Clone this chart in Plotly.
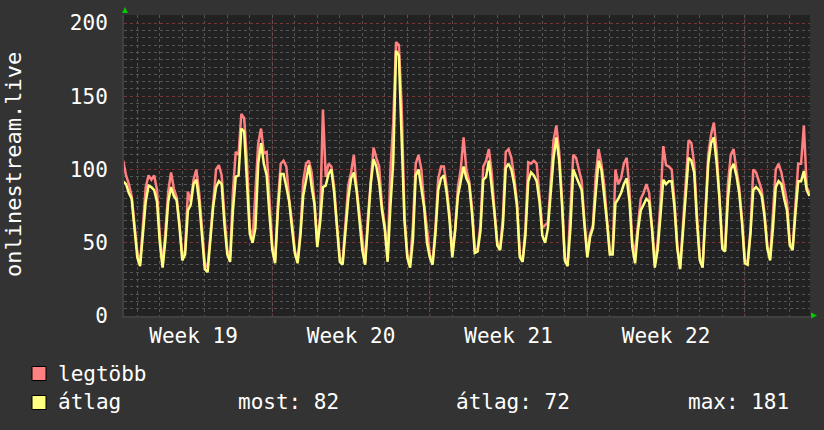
import plotly.graph_objects as go

# ---------------- data ----------------
series_names = ["legtöbb", "átlag"]
week_labels = ["Week 19", "Week 20", "Week 21", "Week 22"]
week_label_days = [2.5, 9.5, 16.5, 23.5]
stat_texts = ["most: 82", "átlag: 72", "max: 181"]

start_day = -0.625
per_day = 8

legtobb = [
    106, 96, 90, 82, 62,
    44, 36, 62, 88, 96, 93, 96, 86,
    55, 34, 58, 85, 98, 87, 81, 63,
    40, 45, 85, 78, 93, 100, 84, 58,
    36, 33, 57, 78, 100, 103, 96, 68,
    45, 40, 85, 112, 110, 138, 135, 105,
    60, 52, 82, 118, 128, 111, 112, 83,
    48, 38, 78, 104, 106, 102, 80, 64,
    45, 38, 58, 92, 104, 106, 98, 78,
    49, 68, 141, 95, 104, 102, 88, 62,
    40, 37, 60, 89, 98, 110, 87, 70,
    50, 36, 68, 92, 115, 108, 102, 75,
    62, 40, 100, 132, 187, 185, 143, 68,
    42, 36, 62, 104, 110, 100, 76, 60,
    42, 37, 60, 94, 102, 102, 88, 70,
    42, 59, 88, 100, 122, 100, 92, 74,
    45, 46, 62, 102, 106, 114, 98, 72,
    50, 46, 68, 112, 114, 108, 95, 78,
    42, 38, 60, 105, 104, 106, 104, 82,
    60, 62, 64, 92, 120, 130, 112, 80,
    40, 36, 72, 110, 108, 99, 92, 64,
    42, 56, 62, 96, 114, 104, 90, 66,
    44, 43, 100, 90, 94, 104, 108, 86,
    50, 44, 62, 80, 84, 90, 84, 62,
    36, 50, 78, 116, 103, 102, 100, 78,
    48, 33, 60, 94, 120, 118, 104, 68,
    40, 34, 70, 110, 124, 132, 112, 82,
    48, 46, 90, 110, 114, 100, 88, 66,
    38, 37, 58, 100, 98, 92, 86, 70,
    48, 40, 68, 100, 104, 98, 88, 78,
    50, 46, 76, 104, 104, 130, 88, 84,
]

atlag = [
    92, 90, 84, 80, 60,
    40, 34, 55, 78, 89, 88, 86, 78,
    50, 33, 52, 78, 88, 82, 79, 61,
    38, 42, 72, 76, 90, 93, 78, 55,
    32, 30, 55, 75, 88, 92, 90, 62,
    42, 37, 72, 95, 96, 128, 126, 90,
    56, 50, 60, 104, 118, 104, 96, 69,
    45, 36, 72, 97, 97, 88, 78, 60,
    43, 36, 55, 82, 94, 103, 88, 76,
    47, 64, 88, 89, 97, 100, 84, 58,
    37, 35, 58, 80, 94, 98, 85, 66,
    45, 35, 62, 90, 107, 102, 91, 72,
    59, 37, 75, 105, 181, 178, 120, 65,
    40, 33, 52, 96, 100, 88, 74, 50,
    40, 35, 56, 86, 94, 96, 84, 66,
    40, 58, 82, 92, 102, 94, 90, 70,
    43, 44, 58, 93, 95, 106, 90, 70,
    48, 45, 62, 101, 104, 100, 90, 75,
    40, 37, 55, 92, 98, 96, 92, 78,
    55, 50, 60, 85, 108, 122, 106, 76,
    38, 34, 60, 100, 95, 90, 86, 62,
    40, 54, 60, 84, 106, 100, 84, 64,
    42, 42, 77, 80, 84, 90, 94, 78,
    47, 36, 58, 72, 76, 80, 78, 60,
    33, 45, 68, 93, 90, 92, 92, 74,
    46, 32, 57, 82, 108, 106, 98, 64,
    38, 33, 66, 104, 118, 122, 104, 80,
    46, 44, 80, 100, 104, 96, 84, 64,
    36, 35, 56, 86, 88, 86, 82, 68,
    46, 38, 60, 88, 92, 90, 80, 72,
    48, 45, 70, 92, 92, 99, 86, 82,
]

y_ticks = [0, 50, 100, 150, 200]
y_title = "onlinestream.live"

# ---------------- styling ----------------
W, H = 824, 430
L, R, T, B = 124, 14, 15, 114
PW, PH = W - L - R, H - T - B
FONT = "DejaVu Sans Mono"
BG = "#333333"
PLOT_BG = "#222222"
RED = "#ff8080"
YEL = "#ffff80"
MINOR = "#555555"
MAJOR = "#7a3434"

times = [start_day + i / per_day for i in range(len(legtobb))]


def px(xp):
    return (xp - L) / PW


def py(yp):
    return (H - B - yp) / PH


fig = go.Figure()
fig.add_trace(go.Scatter(x=times, y=legtobb, mode="lines", name=series_names[0],
                         line=dict(color=RED, width=2.5), showlegend=False))
fig.add_trace(go.Scatter(x=times, y=atlag, mode="lines", name=series_names[1],
                         line=dict(color=YEL, width=2.5), showlegend=False))

shapes = []
# week boundaries (major vertical grid)
for d in week_label_days:
    b = d + 3.5
    shapes.append(dict(type="line", xref="x", yref="paper", x0=b, x1=b, y0=0, y1=1,
                       line=dict(color=MAJOR, width=1, dash="dot"), layer="below"))
# green axis arrows
shapes.append(dict(type="path", xref="paper", yref="paper",
                   path=f"M {px(122)} {py(13)} L {px(128)} {py(13)} L {px(125)} {py(7)} Z",
                   fillcolor="#00cc00", line=dict(width=0)))
shapes.append(dict(type="path", xref="paper", yref="paper",
                   path=f"M {px(811)} {py(312.5)} L {px(811)} {py(318.5)} L {px(817)} {py(315.5)} Z",
                   fillcolor="#00cc00", line=dict(width=0)))
# legend squares
for yc, col in [(373.5, RED), (402.5, YEL)]:
    shapes.append(dict(type="rect", xref="paper", yref="paper",
                       x0=px(32), x1=px(46), y0=py(yc - 7), y1=py(yc + 7),
                       fillcolor=col, line=dict(color="#000000", width=1)))

annotations = [
    dict(text=y_title, xref="paper", yref="paper", x=px(13), y=py(165), textangle=-90,
         showarrow=False, xanchor="center", yanchor="middle",
         font=dict(family=FONT, size=22, color="white")),
    dict(text=series_names[0], xref="paper", yref="paper", x=px(56), y=py(374),
         showarrow=False, xanchor="left", yanchor="middle",
         font=dict(family=FONT, size=21, color="white")),
    dict(text=series_names[1], xref="paper", yref="paper", x=px(56), y=py(402),
         showarrow=False, xanchor="left", yanchor="middle",
         font=dict(family=FONT, size=21, color="white")),
]
for xs, t in zip([236, 454, 686], stat_texts):
    annotations.append(dict(text=t, xref="paper", yref="paper", x=px(xs), y=py(402),
                            showarrow=False, xanchor="left", yanchor="middle",
                            font=dict(family=FONT, size=21, color="white")))

fig.update_layout(
    width=W, height=H,
    margin=dict(l=L, r=R, t=T, b=B, autoexpand=False),
    paper_bgcolor=BG, plot_bgcolor=PLOT_BG,
    font=dict(family=FONT, size=21, color="white"),
    shapes=shapes, annotations=annotations,
    showlegend=False,
)
fig.update_xaxes(
    range=[-0.591, 29.897], tickmode="array", tickvals=week_label_days, ticktext=week_labels,
    showgrid=False, zeroline=False, ticks="", showline=True, linecolor="#404040", linewidth=2,
    tickfont=dict(family=FONT, size=21, color="white"),
    minor=dict(tick0=0, dtick=1, showgrid=True, gridcolor=MINOR, griddash="dot", gridwidth=1),
)
fig.update_yaxes(
    range=[0, 205.5], tickmode="array", tickvals=y_ticks,
    showgrid=True, gridcolor=MAJOR, griddash="dot", gridwidth=1, zeroline=False,
    ticks="", ticklabelstandoff=10, showline=True, linecolor="#404040", linewidth=2,
    tickfont=dict(family=FONT, size=21, color="white"),
    minor=dict(tick0=0, dtick=5, showgrid=True, gridcolor=MINOR, griddash="dot", gridwidth=1),
)

fig.write_html("out.html")
